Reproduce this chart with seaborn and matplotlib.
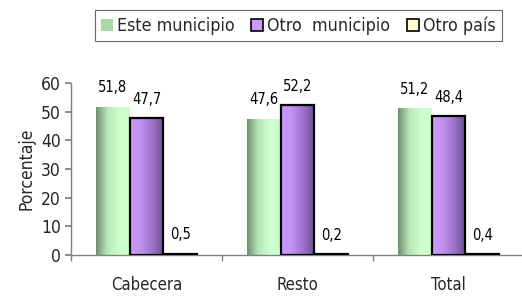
import numpy as np
import pandas as pd
import seaborn as sns
import matplotlib
matplotlib.use("Agg")
import matplotlib.pyplot as plt
from matplotlib.patches import Patch, Rectangle
from matplotlib.colors import LinearSegmentedColormap

# Data
categories = ["Cabecera", "Resto", "Total"]
series = ["Este municipio", "Otro  municipio", "Otro país"]
este_municipio = [51.8, 47.6, 51.2]
otro_municipio = [47.7, 52.2, 48.4]
otro_pais = [0.5, 0.2, 0.4]

sns.set_theme(style="white")
plt.rcParams["font.family"] = ["DejaVu Sans"]
plt.rcParams["font.stretch"] = "condensed"

df = pd.DataFrame({
    "Zona": categories * 3,
    "Serie": [series[0]] * 3 + [series[1]] * 3 + [series[2]] * 3,
    "Porcentaje": este_municipio + otro_municipio + otro_pais,
})

colors = ["#ccffcc", "#cc99ff", "#ffffcc"]
# gradient (left -> right) for the shaded bars
gradients = [
    LinearSegmentedColormap.from_list("g", ["#6f8f6f", "#b8e6b8", "#ccffcc", "#ccffcc"]),
    LinearSegmentedColormap.from_list("p", ["#cc99ff", "#c090f0", "#9a70c8", "#6e5090"]),
    None,
]

fig = plt.figure(figsize=(5.22, 2.97), dpi=100)
ax = fig.add_axes([0.136, 0.1414, 0.868, 0.5791])

sns.barplot(data=df, x="Zona", y="Porcentaje", hue="Serie", order=categories,
            hue_order=series, palette=colors, width=0.67, ax=ax, legend=False,
            saturation=1, edgecolor="none")

xlim = (-0.5, 2.5)
ylim = (0, 60)
grad = np.linspace(0, 1, 256).reshape(1, -1)
for i, cont in enumerate(ax.containers):
    for bar in cont:
        x0, y0 = bar.get_x(), bar.get_y()
        w, h = bar.get_width(), bar.get_height()
        if gradients[i] is not None:
            im = ax.imshow(grad, cmap=gradients[i], aspect="auto",
                           extent=(x0, x0 + w, y0, y0 + h), zorder=2)
            im.set_clip_path(bar)
        if i > 0:
            ax.add_patch(Rectangle((x0, y0), w, h, fill=False,
                                   edgecolor="black", lw=1.6, zorder=3))
        val = f"{h:.1f}".replace(".", ",")
        ax.annotate(val, (x0 + w / 2, h), xytext=(0, 8),
                    textcoords="offset points", ha="center", va="bottom",
                    fontsize=10.5, color="black")

ax.set_xlim(*xlim)
ax.set_ylim(*ylim)
ax.set_yticks(range(0, 61, 10))
ax.set_xticks(range(len(categories)))
ax.set_xticklabels(categories)
ax.set_xticks([-0.5, 0.5, 1.5, 2.5], minor=True)
ax.tick_params(axis="x", which="major", length=0, pad=15, labelsize=12)
ax.tick_params(axis="x", which="minor", length=4.3, color="#808080", direction="out",
               bottom=True)
ax.tick_params(axis="y", length=4.3, color="#808080", direction="out", left=True,
               labelsize=12.5, pad=3)
ax.set_xlabel("")
ax.set_ylabel("Porcentaje", fontsize=12.5, labelpad=4)

for side in ["top", "right"]:
    ax.spines[side].set_visible(False)
for side in ["left", "bottom"]:
    ax.spines[side].set_color("#808080")
    ax.spines[side].set_linewidth(1)

handles = [Patch(facecolor=c, edgecolor="black", lw=1.2) for c in colors]
handles[0] = Patch(facecolor="#a8d8a8", edgecolor="none")
leg = fig.legend(handles, series, loc="center", bbox_to_anchor=(0.571, 0.913),
                 ncol=3, frameon=True, fancybox=False, fontsize=12.8,
                 handlelength=0.67, handleheight=0.67, handletextpad=0.22,
                 columnspacing=0.95, borderpad=0.35, borderaxespad=0)
leg.get_frame().set_edgecolor("#404040")
leg.get_frame().set_linewidth(0.8)

fig.savefig("out.png", dpi=100)
